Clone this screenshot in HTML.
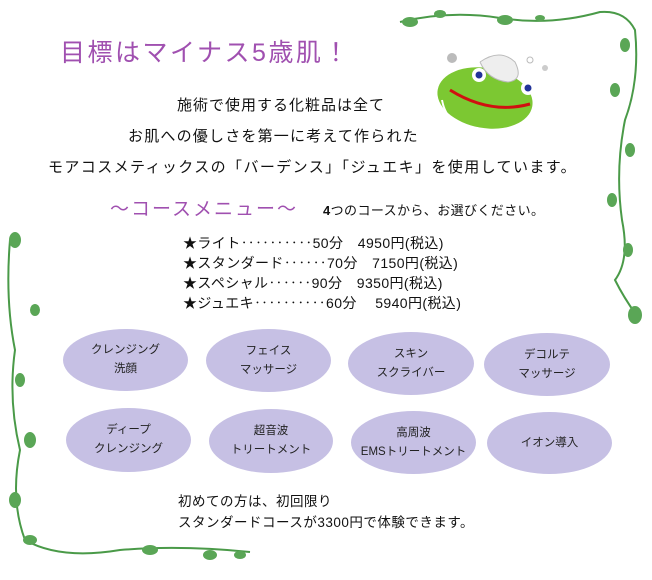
<!DOCTYPE html>
<html><head><meta charset="utf-8"><style>
body{margin:0;width:652px;height:580px;background:#fff;position:relative;overflow:hidden;font-family:"Liberation Sans","Noto Sans CJK JP",sans-serif;color:#111}
.a{position:absolute;white-space:nowrap}
.e{position:absolute;background:#c6c0e4;border-radius:50%;display:flex;align-items:center;justify-content:center;text-align:center;font-size:11.5px;line-height:19px;color:#222}
</style></head><body>
<svg class="a" style="left:0;top:0" width="652" height="580">
<g fill="none" stroke="#4a9a48" stroke-width="2">
<path d="M400 22 Q450 10 500 18 T600 12 Q625 10 635 30 Q640 80 625 120 Q615 170 622 220 Q630 260 615 280 Q625 300 640 320"/>
<path d="M10 240 Q5 300 15 350 Q8 400 20 450 Q10 500 25 540 Q60 560 120 550 Q180 545 250 552"/>
</g>
<g fill="#5aa656">
<ellipse cx="410" cy="22" rx="8" ry="5"/><ellipse cx="440" cy="14" rx="6" ry="4"/><ellipse cx="505" cy="20" rx="8" ry="5"/><ellipse cx="540" cy="18" rx="5" ry="3"/>
<ellipse cx="625" cy="45" rx="5" ry="7"/><ellipse cx="615" cy="90" rx="5" ry="7"/><ellipse cx="630" cy="150" rx="5" ry="7"/><ellipse cx="612" cy="200" rx="5" ry="7"/><ellipse cx="628" cy="250" rx="5" ry="7"/><ellipse cx="635" cy="315" rx="7" ry="9"/>
<ellipse cx="15" cy="240" rx="6" ry="8"/><ellipse cx="35" cy="310" rx="5" ry="6"/><ellipse cx="20" cy="380" rx="5" ry="7"/><ellipse cx="30" cy="440" rx="6" ry="8"/><ellipse cx="15" cy="500" rx="6" ry="8"/><ellipse cx="30" cy="540" rx="7" ry="5"/>
<ellipse cx="150" cy="550" rx="8" ry="5"/><ellipse cx="210" cy="555" rx="7" ry="5"/><ellipse cx="240" cy="555" rx="6" ry="4"/>
</g>
<g>
<circle cx="452" cy="58" r="5" fill="#bbb"/><circle cx="530" cy="60" r="3" fill="none" stroke="#bbb"/><circle cx="545" cy="68" r="3" fill="#ccc"/>
<ellipse cx="485" cy="98" rx="48" ry="30" fill="#7cc832" transform="rotate(10 485 98)"/>
<path d="M450 90 Q490 115 530 104" stroke="#d01010" stroke-width="3" fill="none"/>
<path d="M442 100 Q447 128 478 128" stroke="#fff" stroke-width="2" fill="none"/>
<path d="M480 62 Q500 48 515 62 Q524 80 508 82 Q488 80 480 62" fill="#eee" stroke="#bbb"/>
<circle cx="479" cy="75" r="7" fill="#fff"/><circle cx="479" cy="75" r="3.5" fill="#223399"/>
<circle cx="528" cy="88" r="7" fill="#fff"/><circle cx="528" cy="88" r="3.5" fill="#223399"/>
</g>
</svg>
<div class="a" style="left:60px;top:33px;font-size:25px;letter-spacing:2.5px;color:#a050b0">目標はマイナス5歳肌！</div>
<div class="a" style="left:177px;top:94px;font-size:15px;letter-spacing:1px">施術で使用する化粧品は全て</div>
<div class="a" style="left:128px;top:125px;font-size:15px;letter-spacing:1.2px">お肌への優しさを第一に考えて作られた</div>
<div class="a" style="left:48px;top:156px;font-size:15px;letter-spacing:1.4px">モアコスメティックスの「バーデンス」「ジュエキ」を使用しています。</div>
<div class="a" style="left:110px;top:194px;font-size:19px;letter-spacing:2px;color:#a050b0">〜コースメニュー〜</div>
<div class="a" style="left:323px;top:200px;font-size:13px;letter-spacing:0.4px"><b>4</b>つのコースから、お選びください。</div>
<div class="a" style="left:183px;top:233px;font-size:14px;line-height:20px;letter-spacing:0.4px">★ライト‥‥‥‥‥50分　4950円(税込)<br>★スタンダード‥‥‥70分　7150円(税込)<br>★スペシャル‥‥‥90分　9350円(税込)<br>★ジュエキ‥‥‥‥‥60分　<span style="margin-left:4px">5940円(税込)</span></div>
<div class="e" style="left:63px;top:329px;width:125px;height:62px">クレンジング<br>洗顔</div>
<div class="e" style="left:206px;top:329px;width:125px;height:63px">フェイス<br>マッサージ</div>
<div class="e" style="left:348px;top:332px;width:126px;height:63px">スキン<br>スクライバー</div>
<div class="e" style="left:484px;top:333px;width:126px;height:63px">デコルテ<br>マッサージ</div>
<div class="e" style="left:66px;top:408px;width:125px;height:64px">ディープ<br>クレンジング</div>
<div class="e" style="left:209px;top:409px;width:124px;height:64px">超音波<br>トリートメント</div>
<div class="e" style="left:351px;top:411px;width:125px;height:63px">高周波<br>EMSトリートメント</div>
<div class="e" style="left:487px;top:412px;width:125px;height:62px">イオン導入</div>
<div class="a" style="left:178px;top:491px;font-size:13.5px;line-height:21px;letter-spacing:0.5px">初めての方は、初回限り<br>スタンダードコースが3300円で体験できます。</div>
</body></html>
